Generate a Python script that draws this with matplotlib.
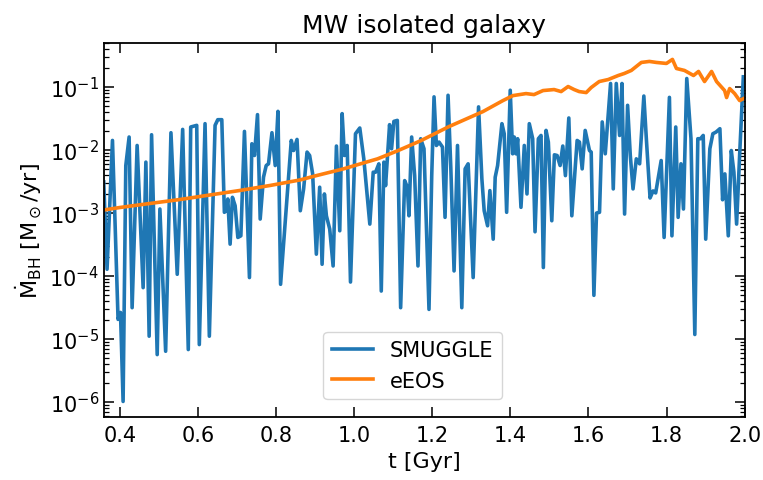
import numpy as np
import matplotlib
matplotlib.use("Agg")
import matplotlib.pyplot as plt
from matplotlib.ticker import LogLocator, NullFormatter

# SMUGGLE: time [Gyr] and log10(Mdot_BH [Msun/yr])
t_smuggle = [0.3589, 0.3674, 0.3813, 0.3956, 0.4018, 0.4085, 0.4154, 0.4239, 0.4316, 0.4444,
             0.4598, 0.4668, 0.4752, 0.4814, 0.4958, 0.5027, 0.5174, 0.5310, 0.5471, 0.5610,
             0.5754, 0.5816, 0.5970, 0.6036, 0.6183, 0.6293, 0.6440, 0.6509, 0.6612, 0.6678,
             0.6722, 0.6766, 0.6825, 0.6884, 0.6953, 0.7023, 0.7100, 0.7192, 0.7320, 0.7382,
             0.7449, 0.7526, 0.7595, 0.7680, 0.7749, 0.7808, 0.7896, 0.7980, 0.8050, 0.8117,
             0.8391, 0.8450, 0.8538, 0.8622, 0.8707, 0.8795, 0.8861, 0.8938, 0.9033, 0.9118,
             0.9180, 0.9239, 0.9290, 0.9375, 0.9462, 0.9547, 0.9632, 0.9693, 0.9752, 0.9822,
             0.9907, 1.0035, 1.0145, 1.0248, 1.0402, 1.0489, 1.0549, 1.0633, 1.0695, 1.0762,
             1.0805, 1.0908, 1.0959, 1.1018, 1.1106, 1.1191, 1.1294, 1.1363, 1.1404, 1.1473,
             1.1550, 1.1635, 1.1704, 1.1789, 1.1917, 1.1987, 1.2046, 1.2107, 1.2174, 1.2262,
             1.2328, 1.2405, 1.2475, 1.2559, 1.2647, 1.2757, 1.2842, 1.2919, 1.3048, 1.3186,
             1.3271, 1.3330, 1.3417, 1.3476, 1.3561, 1.3612, 1.3674, 1.3784, 1.3843, 1.3905,
             1.3997, 1.4059, 1.4100, 1.4144, 1.4187, 1.4272, 1.4357, 1.4426, 1.4485, 1.4572,
             1.4632, 1.4717, 1.4786, 1.4845, 1.4914, 1.4973, 1.5061, 1.5128, 1.5197, 1.5274,
             1.5343, 1.5410, 1.5497, 1.5574, 1.5710, 1.5769, 1.5839, 1.5916, 1.6026, 1.6070,
             1.6139, 1.6206, 1.6283, 1.6352, 1.6430, 1.6566, 1.6635, 1.6712, 1.6797, 1.6858,
             1.6925, 1.7002, 1.7071, 1.7141, 1.7225, 1.7310, 1.7418, 1.7482, 1.7577, 1.7654,
             1.7721, 1.7862, 1.7937, 1.8073, 1.8137, 1.8235, 1.8296, 1.8368, 1.8432, 1.8517,
             1.8625, 1.8723, 1.8800, 1.8869, 1.8938, 1.9002, 1.9108, 1.9185, 1.9267, 1.9365,
             1.9434, 1.9493, 1.9580, 1.9657, 1.9724, 1.9793, 1.9878, 1.9965]
logmdot_smuggle = [-2.508, -3.893, -1.850, -4.689, -4.578, -5.990, -2.248, -1.796, -4.503, -1.930,
                   -4.185, -2.194, -4.955, -1.760, -5.247, -2.938, -5.194, -1.728, -3.973, -1.675,
                   -5.167, -1.637, -1.611, -5.088, -1.584, -4.955, -1.611, -1.521, -1.521, -2.990,
                   -2.965, -2.779, -3.495, -2.752, -2.885, -3.389, -3.363, -1.707, -4.025, -1.903,
                   -2.089, -1.441, -3.097, -2.433, -2.248, -2.221, -1.728, -2.248, -1.389, -4.132,
                   -1.850, -2.010, -1.834, -2.965, -2.619, -2.035, -2.089, -2.381, -3.654, -2.592,
                   -3.814, -2.699, -3.045, -3.256, -3.841, -1.939, -3.283, -1.425, -2.089, -1.930,
                   -4.096, -1.744, -1.653, -2.142, -3.177, -2.354, -2.354, -2.221, -4.239, -2.194,
                   -2.567, -1.600, -1.982, -1.548, -1.532, -4.503, -2.487, -2.592, -3.045, -1.796,
                   -2.408, -3.841, -1.823, -1.982, -4.530, -2.408, -1.159, -1.930, -1.876, -1.955,
                   -3.070, -1.134, -2.274, -3.920, -1.930, -4.503, -2.301, -2.221, -4.025, -1.318,
                   -2.460, -2.965, -3.204, -2.646, -3.416, -2.433, -2.248, -1.584, -1.744, -2.990,
                   -1.054, -2.062, -1.796, -2.062, -1.823, -2.911, -1.930, -2.699, -1.584, -1.823,
                   -3.299, -1.823, -1.771, -3.866, -1.691, -1.876, -3.124, -2.078, -2.089, -2.248,
                   -1.939, -2.408, -1.494, -3.045, -1.850, -1.876, -2.301, -1.691, -2.010, -2.035,
                   -4.307, -3.002, -2.990, -1.557, -2.062, -0.947, -2.619, -0.947, -1.771, -0.947,
                   -3.018, -1.293, -2.089, -2.619, -2.142, -2.221, -1.146, -1.823, -2.763, -2.651,
                   -2.683, -2.169, -3.389, -1.167, -3.363, -1.637, -3.070, -2.221, -2.938, -0.868,
                   -1.823, -4.928, -1.823, -1.823, -1.771, -3.416, -1.982, -1.744, -1.717, -1.664,
                   -2.791, -2.381, -3.363, -2.010, -2.354, -3.177, -1.982, -0.841]

# eEOS: time [Gyr] and log10(Mdot_BH [Msun/yr])
t_eeos = [0.3589, 0.4000, 0.4770, 0.5541, 0.6311, 0.7082, 0.7852, 0.8622, 0.9008, 0.9727,
          1.0163, 1.0600, 1.1114, 1.1704, 1.2423, 1.3296, 1.3810, 1.4067, 1.4401, 1.4606,
          1.4837, 1.5120, 1.5300, 1.5479, 1.5633, 1.5762, 1.5942, 1.6070, 1.6275, 1.6506,
          1.6763, 1.6917, 1.7097, 1.7354, 1.7560, 1.7739, 1.7996, 1.8150, 1.8253, 1.8458,
          1.8690, 1.8818, 1.8972, 1.9152, 1.9280, 1.9486, 1.9537, 1.9615, 1.9743, 1.9871,
          1.9974]
logmdot_eeos = [-2.954, -2.914, -2.850, -2.787, -2.715, -2.643, -2.564, -2.476, -2.412, -2.301,
                -2.221, -2.142, -2.014, -1.855, -1.632, -1.393, -1.218, -1.139, -1.107, -1.123,
                -1.059, -1.043, -1.075, -0.995, -1.043, -1.075, -1.091, -1.011, -0.916, -0.884,
                -0.820, -0.788, -0.740, -0.613, -0.597, -0.613, -0.629, -0.565, -0.709, -0.740,
                -0.820, -0.756, -0.916, -0.756, -0.916, -1.059, -1.170, -1.027, -1.107, -1.218,
                -1.186]

xticks = [0.4, 0.6, 0.8, 1.0, 1.2, 1.4, 1.6, 1.8, 2.0]

plt.rcParams['font.family'] = ['DejaVu Sans']
plt.rcParams['mathtext.fontset'] = 'dejavusans'

fig = plt.figure(figsize=(7.63, 4.81), dpi=100)
ax = fig.add_axes([0.136, 0.131, 0.840, 0.778])

ax.plot(t_smuggle, 10 ** np.array(logmdot_smuggle), color='#1f77b4', lw=2.6, label='SMUGGLE')
ax.plot(t_eeos, 10 ** np.array(logmdot_eeos), color='#ff7f0e', lw=2.6, label='eEOS')

ax.set_yscale('log')
ax.set_xlim(0.359, 2.0)
ax.set_ylim(5.8e-7, 0.5)
ax.set_xticks(xticks)
ax.set_xticklabels([f'{v:.1f}' for v in xticks])
ax.yaxis.set_major_locator(LogLocator(base=10, numticks=15))
ax.yaxis.set_minor_locator(LogLocator(base=10, subs=np.arange(2, 10), numticks=15))
ax.yaxis.set_minor_formatter(NullFormatter())

ax.tick_params(which='both', direction='in', top=True, right=True, labelsize=15)
ax.tick_params(which='major', length=7, width=1.1)
ax.tick_params(which='minor', length=3.5, width=0.9)
ax.tick_params(axis='x', which='minor', bottom=False, top=False)
ax.tick_params(axis='x', pad=6)
for s in ax.spines.values():
    s.set_linewidth(1.3)

ax.set_xlabel('t [Gyr]', fontsize=16)
ax.set_ylabel(r'$\dot{\rm M}_{\rm BH}$ [M$_\odot$/yr]', fontsize=16)
ax.set_title('MW isolated galaxy', fontsize=18, pad=8)

ax.legend(loc='lower center', bbox_to_anchor=(0.482, 0.02), fontsize=15, handlelength=2.0)

fig.savefig('out.png', dpi=100)
